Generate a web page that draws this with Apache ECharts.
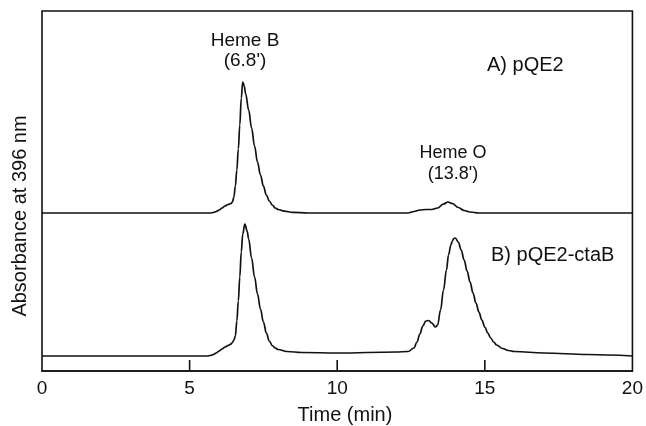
<!DOCTYPE html>
<html>
<head>
<meta charset="utf-8">
<script src="https://cdn.jsdelivr.net/npm/echarts@6/dist/echarts.min.js"></script>
<style>html,body{margin:0;padding:0;background:#fff}#c{width:646px;height:426px}</style>
</head>
<body>
<div id="c"></div>
<script>
// Trace A) pQE2 (absorbance above its own baseline, arbitrary units)
const timeA = [0,5,5.7,5.8,5.9,6.0,6.1,6.2,6.3,6.4,6.45,6.5,6.55,6.6,6.65,6.7,6.75,6.8,6.85,6.9,7.0,7.1,7.2,7.3,7.4,7.5,7.6,7.7,7.8,7.9,8.0,8.2,8.5,9.0,12.4,12.6,12.8,13.0,13.2,13.4,13.6,13.75,13.9,14.1,14.3,14.5,14.8,20];
const absA  = [0,0,0,0.5,1.5,3,5,7,8.5,9.5,11,16,27,43,64,88,115,131,127,119,103,85,67,51,38,27,18,12,8,5,3.5,1.8,0.7,0,0,1.5,3,3.5,3.5,5,9,11,9.5,5.5,2.5,1,0,0];
// Trace B) pQE2-ctaB
const timeB = [0,5.6,5.7,5.8,5.9,6.0,6.1,6.2,6.3,6.4,6.45,6.5,6.55,6.6,6.65,6.7,6.75,6.8,6.87,6.95,7.0,7.1,7.2,7.3,7.4,7.5,7.6,7.7,7.8,7.9,8.0,8.3,8.8,10,12,12.4,12.6,12.7,12.8,12.9,13.0,13.1,13.2,13.33,13.4,13.5,13.6,13.7,13.77,13.85,13.9,13.95,14.0,14.1,14.2,14.3,14.4,14.5,14.6,14.7,14.8,14.9,15.0,15.1,15.2,15.3,15.4,15.6,15.8,16.0,17,18.5,20];
const absB  = [0,0,0.5,1.5,3,5,7,9,10.5,12,13.5,16,20,35,55,79,104,122,132,125,117,98,79,62,47,34,23,15,10.5,8,6.5,4.5,3.5,3,4,4.5,8,14,22,30,35,35.5,33,29,31,46,66,86,101,111,115,117.5,118,114,106,96,85,74,63,53,44,36,29,23,18,14,11,7.5,5.5,4.5,3,1.5,0];
// vertical offset of trace A above trace B (display stacking)
const offsetA = 143;
const xTicks = [0,5,10,15,20];

const yMin = -15, yMax = 345;
const dataA = timeA.map((t,i)=>[t, absA[i] + offsetA]);
const dataB = timeB.map((t,i)=>[t, absB[i]]);

const FONT = 'Liberation Sans, Arial, Helvetica, sans-serif';
const chart = echarts.init(document.getElementById('c'), null, {renderer:'canvas'});
const lineStyle = {color:'#111', width:1.7};
function txt(s, x, y, align, size){
  return {type:'text', x:x, y:y, z:10, style:{text:s, font:(size||19)+'px '+FONT, fill:'#111', textAlign:align||'center', textVerticalAlign:'middle'}};
}
const yLabel = txt('Absorbance at 396 nm', 20, 216, 'center', 20);
yLabel.rotation = Math.PI/2;
chart.setOption({
  animation:false,
  backgroundColor:'#fff',
  grid:{left:42, right:10, top:11, bottom:55, show:true, borderColor:'#111', borderWidth:1.6, backgroundColor:'transparent'},
  xAxis:{type:'value', min:xTicks[0], max:xTicks[xTicks.length-1], interval:5,
    axisLine:{show:true, onZero:false, lineStyle:{color:'#111', width:1.6}},
    axisTick:{show:false},
    axisLabel:{show:true, color:'#111', fontSize:19, fontFamily:FONT, margin:8},
    splitLine:{show:false}},
  yAxis:{type:'value', min:yMin, max:yMax, show:false, splitLine:{show:false}},
  series:[
    {type:'line', data:dataA, showSymbol:false, smooth:0.4, smoothMonotone:'x', lineStyle, silent:true},
    {type:'line', data:dataB, showSymbol:false, smooth:0.4, smoothMonotone:'x', lineStyle, silent:true}
  ],
  graphic:[
    yLabel,
    txt('Time (min)', 345, 415, 'center', 20),
    txt('Heme B', 245, 41),
    txt("(6.8')", 245, 61),
    txt('Heme O', 453, 153, 'center', 18),
    txt("(13.8')", 453, 174, 'center', 18),
    txt('A) pQE2', 487, 65, 'left', 20),
    txt('B) pQE2-ctaB', 491, 255, 'left', 20)
  ]
});
// inward tick marks at the inner tick values, positioned through the axis scale
const tickLen = 11;
const tickEls = xTicks.slice(1, -1).map(t => {
  const p = chart.convertToPixel({gridIndex:0}, [t, yMin]);
  return {type:'line', z:20, shape:{x1:p[0], y1:p[1], x2:p[0], y2:p[1]-tickLen}, style:{stroke:'#111', lineWidth:1.6}};
});
chart.setOption({graphic: tickEls.map((e,i)=>Object.assign({id:'tick'+i}, e))});
</script>
</body>
</html>
